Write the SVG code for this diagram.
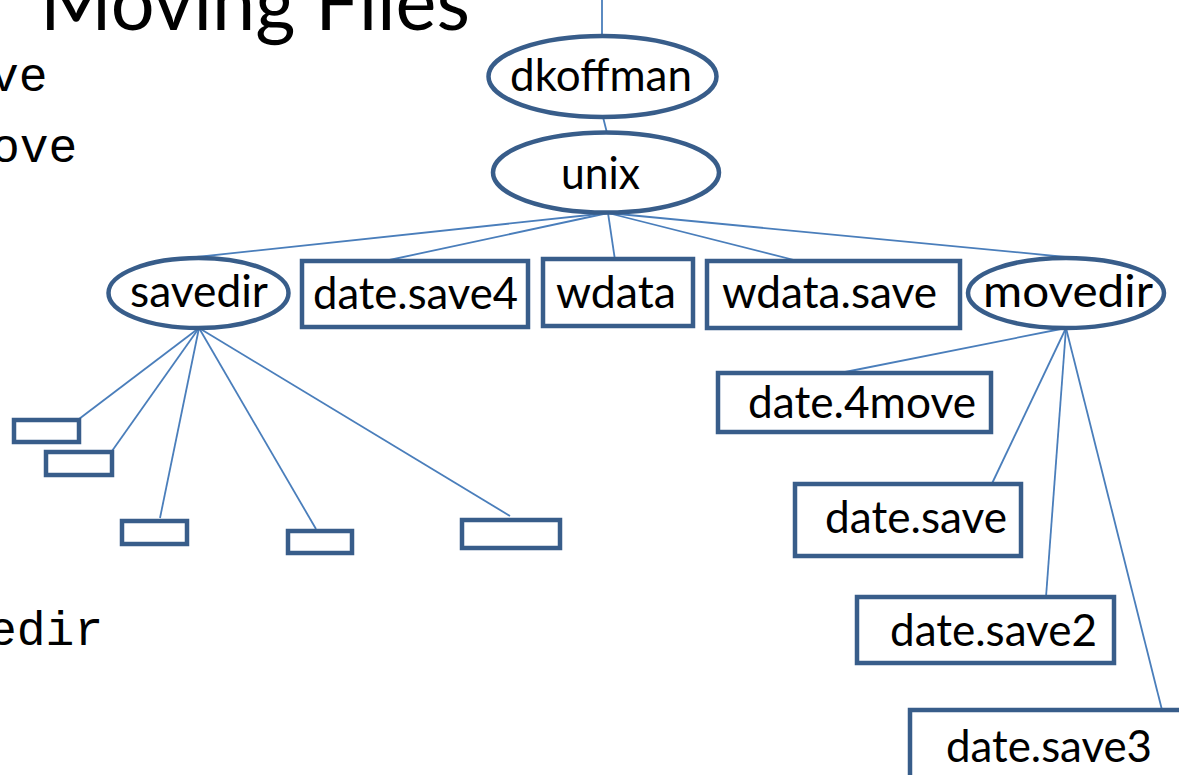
<svg xmlns="http://www.w3.org/2000/svg" width="1179" height="775" viewBox="0 0 1179 775">
<style>
.node{fill:#fff;stroke:#385D8A;stroke-width:4.5}
.small{fill:#fff;stroke:#385D8A;stroke-width:4.5}
.lbl{font-family:Lato,"Open Sans","Liberation Sans",sans-serif;font-size:44px;fill:#000}
.code{font-family:"Liberation Mono","DejaVu Sans Mono",monospace;font-size:48px;fill:#000}
.title{font-family:Lato,"Open Sans","Liberation Sans",sans-serif;font-size:80px;fill:#000}
#connectors line{stroke:#4A7EBB;stroke-width:1.8;fill:none}
</style>
<rect width="1179" height="775" fill="#fff"/>
<text class="title" x="40" y="30" textLength="430" lengthAdjust="spacingAndGlyphs">Moving Files</text>
<text class="code" x="-10" y="91">ve</text>
<text class="code" x="-9" y="162">ove</text>
<text class="code" x="-12" y="645">edir</text>
<g id="connectors">
<line x1="602" y1="0" x2="602" y2="36"/>
<line x1="603" y1="117" x2="607" y2="133"/>
<line x1="608" y1="213" x2="187" y2="258"/>
<line x1="608" y1="213" x2="380" y2="262"/>
<line x1="608" y1="213" x2="615" y2="260"/>
<line x1="608" y1="213" x2="798" y2="261"/>
<line x1="608" y1="213" x2="1087" y2="259"/>
<line x1="199" y1="328" x2="79" y2="419"/>
<line x1="199" y1="328" x2="112" y2="451"/>
<line x1="199" y1="328" x2="160" y2="518"/>
<line x1="199" y1="328" x2="316" y2="529"/>
<line x1="199" y1="328" x2="510" y2="516"/>
<line x1="1066" y1="328" x2="835" y2="374"/>
<line x1="1066" y1="328" x2="987" y2="494"/>
<line x1="1066" y1="328" x2="1046" y2="597"/>
<line x1="1066" y1="328" x2="1162" y2="710"/>
</g>
<g id="dkoffman"><ellipse class="node" cx="602.5" cy="76.5" rx="114" ry="40.5"/><text class="lbl" x="510" y="91" textLength="182" lengthAdjust="spacingAndGlyphs">dkoffman</text></g>
<g id="unix"><ellipse class="node" cx="606" cy="172.5" rx="113" ry="40"/><text class="lbl" x="561" y="189" textLength="79" lengthAdjust="spacingAndGlyphs">unix</text></g>
<g id="savedir"><ellipse class="node" cx="198.5" cy="293" rx="90" ry="35"/><text class="lbl" x="130" y="307" textLength="138" lengthAdjust="spacingAndGlyphs">savedir</text></g>
<g id="date.save4"><rect class="node" x="302" y="261" width="226" height="66"/><text class="lbl" x="313" y="309" textLength="205" lengthAdjust="spacingAndGlyphs">date.save4</text></g>
<g id="wdata"><rect class="node" x="543" y="259" width="150" height="67"/><text class="lbl" x="556" y="308" textLength="120" lengthAdjust="spacingAndGlyphs">wdata</text></g>
<g id="wdata.save"><rect class="node" x="707" y="261" width="253" height="67"/><text class="lbl" x="722" y="308" textLength="215" lengthAdjust="spacingAndGlyphs">wdata.save</text></g>
<g id="movedir"><ellipse class="node" cx="1066" cy="293" rx="98" ry="35"/><text class="lbl" x="983" y="307" textLength="170" lengthAdjust="spacingAndGlyphs">movedir</text></g>
<g id="date.4move"><rect class="node" x="718" y="373" width="273" height="59"/><text class="lbl" x="748" y="418" textLength="228" lengthAdjust="spacingAndGlyphs">date.4move</text></g>
<g id="date.save"><rect class="node" x="795" y="484" width="226" height="72"/><text class="lbl" x="825" y="533" textLength="182" lengthAdjust="spacingAndGlyphs">date.save</text></g>
<g id="date.save2"><rect class="node" x="857" y="597" width="257" height="66"/><text class="lbl" x="890" y="646" textLength="207" lengthAdjust="spacingAndGlyphs">date.save2</text></g>
<g id="date.save3"><rect class="node" x="910" y="710" width="280" height="70"/><text class="lbl" x="946" y="762" textLength="206" lengthAdjust="spacingAndGlyphs">date.save3</text></g>
<g id="s1"><rect class="small" x="14" y="420" width="65" height="22"/></g>
<g id="s2"><rect class="small" x="46" y="452" width="66" height="23"/></g>
<g id="s3"><rect class="small" x="122" y="521" width="65" height="23"/></g>
<g id="s4"><rect class="small" x="288" y="531" width="64" height="22"/></g>
<g id="s5"><rect class="small" x="462" y="520" width="98" height="28"/></g>
</svg>
